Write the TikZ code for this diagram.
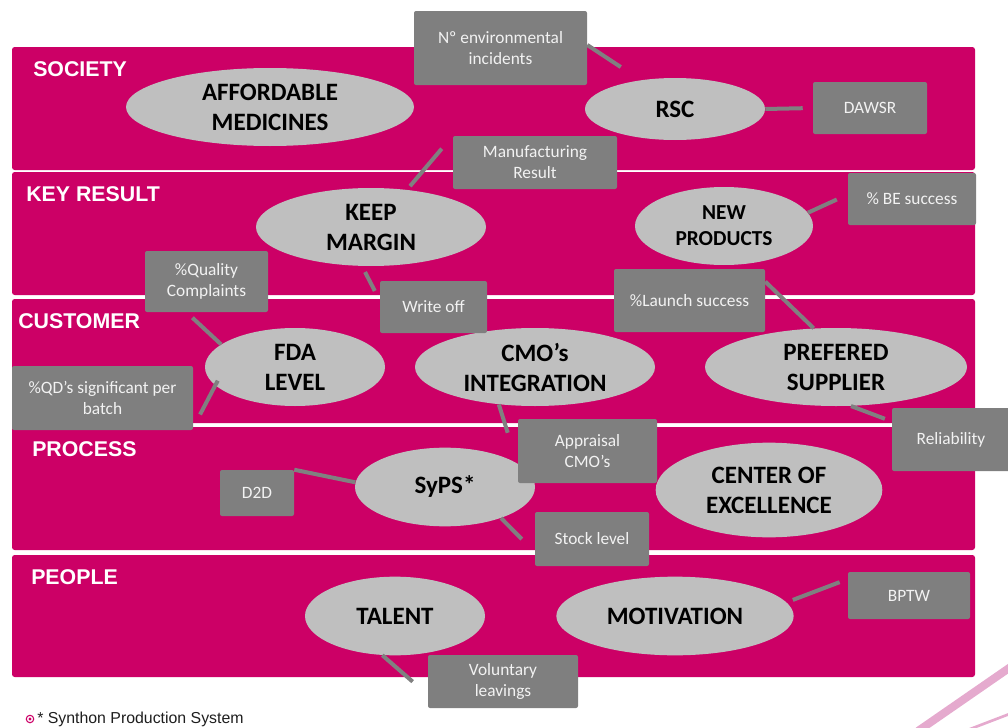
\documentclass[tikz,border=0pt]{standalone}
\usepackage{fontspec}
\setmainfont{Liberation Sans}
\newfontfamily\calibri{Carlito}
\usetikzlibrary{shapes.geometric}
\definecolor{bandpink}{RGB}{204,0,102}
\definecolor{goalgray}{RGB}{191,191,191}
\definecolor{kpigray}{RGB}{127,127,127}
\definecolor{kpitext}{RGB}{242,242,242}
\definecolor{linkgray}{RGB}{128,128,128}
\definecolor{swooshpink}{RGB}{229,170,206}
\definecolor{notetext}{RGB}{30,30,30}
\begin{document}
\begin{tikzpicture}
[   x=0.75pt, y=-0.75pt,
    band/.style={fill=bandpink,rounded corners=2pt},
    perspective/.style={anchor=base west,inner sep=0pt,text=white,font=\bfseries\fontsize{16}{19}\selectfont},
    goal/.style 2 args={ellipse,fill=goalgray,minimum width=#1,minimum height=#2,inner sep=0pt,align=center,
        font=\calibri\bfseries\fontsize{18.75}{22.5}\selectfont},
    kpi/.style 2 args={rectangle,fill=kpigray,minimum width=#1,minimum height=#2,inner sep=0pt,rounded corners=1.5pt,
        align=center,text=kpitext,font=\calibri\fontsize{13}{15.75}\selectfont},
    link/.style={draw=linkgray,line width=3pt},
    swoosh/.style={draw=swooshpink},
]
    \useasboundingbox (0,0) rectangle (1008,728);
    % perspectives
    \foreach \ya/\yb/\lx/\name [count=\i] in {47/170/33/SOCIETY,172/295/26/KEY RESULT,299/423/18/CUSTOMER,
        427/550/32/PROCESS,555/677/31/PEOPLE}
    {   \fill[band] (12,\ya) rectangle (975,\yb);
        \node[perspective] (p-\i) at (\lx,\ya+29.5) {\name};
    }
    % objectives
    \node[goal={216pt}{58.5pt}] (afford) at (270,107) {AFFORDABLE\\MEDICINES};
    \node[goal={135pt}{46.5pt}] (rsc) at (675,109) {RSC};
    \node[goal={172.5pt}{58.5pt}] (keep) at (371,227) {KEEP\\MARGIN};
    \node[goal={133.5pt}{58.5pt},font=\calibri\bfseries\fontsize{16}{19.5}\selectfont] (newp) at (724,226) {NEW\\PRODUCTS};
    \node[goal={135pt}{58.5pt}] (fda) at (295,367) {FDA\\LEVEL};
    \node[goal={180pt}{58.5pt}] (cmo) at (535,367) {CMO’s\\INTEGRATION};
    \node[goal={196.5pt}{58.5pt}] (pref) at (836,367) {PREFERED\\SUPPLIER};
    \node[goal={135pt}{59pt}] (syps) at (445,487) {SyPS*};
    \node[goal={170pt}{71pt}] (coe) at (769,490) {CENTER OF\\EXCELLENCE};
    \node[goal={135pt}{59pt}] (talent) at (395,616) {TALENT};
    \node[goal={178pt}{59pt}] (motiv) at (675,616) {MOTIVATION};
    % indicators
    \node[kpi={129.75pt}{55.5pt}] (env) at (500.5,48) {Nº environmental\\incidents};
    \node[kpi={85.5pt}{39pt}] (dawsr) at (870,108) {DAWSR};
    \node[kpi={123pt}{39.75pt}] (manuf) at (535,162.5) {Manufacturing\\Result};
    \node[kpi={96pt}{39pt}] (be) at (912,199) {\% BE success};
    \node[kpi={92.25pt}{45.75pt}] (quality) at (206.5,281.5) {\%Quality\\Complaints};
    \node[kpi={80.25pt}{39pt}] (wo) at (433.5,307) {Write off};
    \node[kpi={113.25pt}{47.25pt}] (launch) at (689.5,300.5) {\%Launch success};
    \node[kpi={135.75pt}{48pt}] (qd) at (102.5,398) {\%QD’s significant per\\batch};
    \node[kpi={104.25pt}{48pt}] (appraisal) at (587.5,451) {Appraisal\\CMO’s};
    \node[kpi={88.5pt}{47.25pt}] (reliab) at (951,439.5) {Reliability};
    \node[kpi={55.5pt}{34.5pt}] (d2d) at (257,493) {D2D};
    \node[kpi={85.5pt}{40.5pt}] (stock) at (592,539) {Stock level};
    \node[kpi={91.5pt}{35.25pt}] (bptw) at (909,595.5) {BPTW};
    \node[kpi={112.5pt}{39.75pt}] (volunt) at (503,681.5) {Voluntary\\leavings};
    % links
    \draw[link,shorten >=17.8pt] (env.2) -- (rsc.140);
    \draw[link,shorten >=7.5pt] (rsc.east) -- (dawsr.west);
    \draw[link,shorten <=3.5pt,shorten >=12.75pt] (keep.46) -- (manuf.north west);
    \draw[link,shorten >=9pt] (newp.9) -- (be.176);
    \draw[link,shorten <=6pt] (quality.237) -- (fda.163);
    \draw[link,shorten <=5pt,shorten >=8pt] (keep.257) -- (wo.173);
    \draw[link] (launch.14) -- (pref.120);
    \draw[link,shorten <=11pt,shorten >=-4pt] (qd.-18) -- (fda.193);
    \draw[link,shorten >=25pt] (cmo.226) -- (appraisal.191);
    \draw[link,shorten >=5.5pt] (pref.-69) -- (reliab.163);
    \draw[link] (d2d.north east) -- (syps.177);
    \draw[link,shorten >=13.8pt] (syps.-29) -- (stock.193);
    \draw[link,shorten <=5pt,shorten >=6.5pt] (motiv.7) -- (bptw.165);
    \draw[link,shorten >=15pt] (talent.252) -- (volunt.190);
    % footnote
    \draw[bandpink,line width=0.8pt] (30,719) circle (2.8pt);
    \fill[bandpink] (30,719) circle (1.3pt);
    \node[anchor=base west,inner sep=0pt,text=notetext,font=\fontsize{11.9}{14}\selectfont] (note) at (37,723) {* Synthon Production System};
    % corner swoosh
    \draw[swoosh,line width=6pt] (918,731) -- (1012,666);
    \draw[swoosh,line width=2pt] (965,731) -- (1012,713);
\end{tikzpicture}
\end{document}
